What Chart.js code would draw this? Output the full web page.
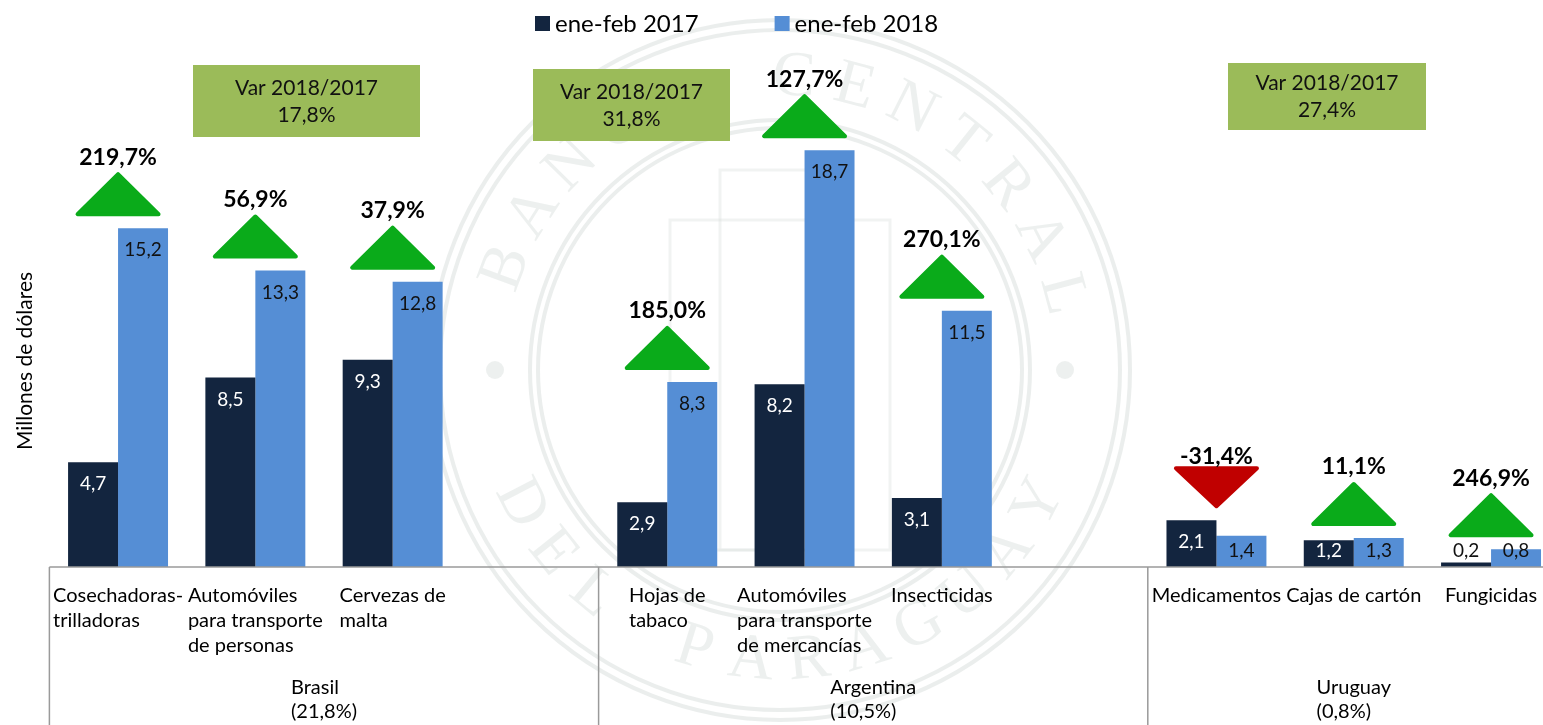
<!DOCTYPE html>
<html>
<head>
<meta charset="utf-8">
<script src="https://cdn.jsdelivr.net/npm/chart.js@4.4.1/dist/chart.umd.min.js"></script>
<style>
    html, body { margin: 0; padding: 0; background: #fff; overflow: hidden; }
    #wrap { position: relative; width: 1600px; height: 725px; }
</style>
</head>
<body>
<div id="wrap"><canvas id="chart"></canvas></div>
<script>
// categories (empty ones keep the gap between countries)
const categories = [
    ['Cosechadoras-', 'trilladoras'],
    ['Automóviles', 'para transporte', 'de personas'],
    ['Cervezas de', 'malta'],
    [],
    ['Hojas de', 'tabaco'],
    ['Automóviles', 'para transporte', 'de mercancías'],
    ['Insecticidas'],
    [],
    ['Medicamentos'],
    ['Cajas de cartón'],
    ['Fungicidas'],
];
const seriesLabels = ['ene-feb 2017', 'ene-feb 2018'];
const values2017 = [4.7, 8.5, 9.3, null, 2.9, 8.2, 3.1, null, 2.1, 1.2, 0.2];
const values2018 = [15.2, 13.3, 12.8, null, 8.3, 18.7, 11.5, null, 1.4, 1.3, 0.8];
const changePct = [219.7, 56.9, 37.9, null, 185.0, 127.7, 270.1, null, -31.4, 11.1, 246.9];

// countries: first and last category index, share, total variation
const groupNames = ['Brasil', 'Argentina', 'Uruguay'];
const groupFirst = [0, 4, 8];
const groupLast = [3, 7, 10];
const groupShares = ['(21,8%)', '(10,5%)', '(0,8%)'];
const groupVar = ['17,8%', '31,8%', '27,4%'];

const COL_2017 = '#13253f';
const COL_2018 = '#558ed5';
const FONT = 'Lato, "Open Sans", sans-serif';

function fmt(v) {
    return v.toFixed(1).replace('.', ',');
}

// draw lines left aligned, block centred on cx
function drawBlock(ctx, lines, cx, y, lh) {
    let w = 0;
    lines.forEach((l) => { w = Math.max(w, ctx.measureText(l).width); });
    const x0 = cx - w / 2;
    ctx.textAlign = 'left';
    ctx.textBaseline = 'middle';
    lines.forEach((l, i) => ctx.fillText(l, x0, y + i * lh));
}

function arcText(ctx, text, cx, cy, r, startAng, endAng, top) {
    const n = text.length;
    for (let i = 0; i < n; i++) {
        const a = startAng + (endAng - startAng) * (i + 0.5) / n;
        ctx.save();
        ctx.translate(cx + r * Math.cos(a), cy + r * Math.sin(a));
        ctx.rotate(top ? a + Math.PI / 2 : a - Math.PI / 2);
        ctx.fillText(text[i], 0, 0);
        ctx.restore();
    }
}

// faint seal in the background
const watermark = {
    id: 'watermark',
    beforeDatasetsDraw(chart) {
        const ctx = chart.ctx;
        const cx = 780, cy = 370;
        ctx.save();
        ctx.strokeStyle = 'rgba(215,222,219,0.5)';
        ctx.fillStyle = 'rgba(215,222,219,0.45)';
        ctx.lineWidth = 4;
        [350, 340, 250, 242].forEach((r) => {
            ctx.beginPath();
            ctx.arc(cx, cy, r, 0, Math.PI * 2);
            ctx.stroke();
        });
        [-1, 1].forEach((s) => {
            ctx.beginPath();
            ctx.arc(cx + s * 285, cy, 9, 0, Math.PI * 2);
            ctx.fill();
        });
        ctx.font = '64px "Liberation Serif", "DejaVu Serif", serif';
        ctx.textAlign = 'center';
        ctx.textBaseline = 'middle';
        arcText(ctx, 'BANCO CENTRAL', cx, cy, 292, Math.PI * 1.08, Math.PI * 1.95, true);
        arcText(ctx, 'DEL PARAGUAY', cx, cy, 292, Math.PI * 0.88, Math.PI * 0.12, false);
        ctx.lineWidth = 3;
        ctx.strokeStyle = 'rgba(215,222,219,0.35)';
        ctx.strokeRect(cx - 110, cy - 150, 220, 330);
        ctx.strokeRect(cx - 60, cy - 200, 120, 380);
        ctx.restore();
    },
};

const decorations = {
    id: 'decorations',
    afterDatasetsDraw(chart) {
        const ctx = chart.ctx;
        const xs = chart.scales.x;
        const ys = chart.scales.y;
        const area = chart.chartArea;
        const half = (xs.getPixelForValue(1) - xs.getPixelForValue(0)) / 2;
        ctx.save();

        // bar value labels
        chart.data.datasets.forEach((ds, di) => {
            const meta = chart.getDatasetMeta(di);
            meta.data.forEach((el, i) => {
                const v = ds.data[i];
                if (v === null) return;
                const y = Math.min(el.y + 22, el.base - 16);
                const inside = y - 8 > el.y;
                ctx.fillStyle = di === 0 && inside ? '#ffffff' : '#111111';
                ctx.font = '19px ' + FONT;
                ctx.textAlign = 'center';
                ctx.textBaseline = 'middle';
                ctx.fillText(fmt(v), el.x, y);
            });
        });

        // change triangles and percentages
        changePct.forEach((p, i) => {
            if (p === null) return;
            const cx = xs.getPixelForValue(i);
            const top = Math.max(values2017[i], values2018[i]);
            const baseY = ys.getPixelForValue(top) - 14;
            const w = 81, h = 40;
            let labelY;
            ctx.beginPath();
            if (p >= 0) {
                ctx.moveTo(cx - w / 2, baseY);
                ctx.lineTo(cx + w / 2, baseY);
                ctx.lineTo(cx, baseY - h);
                ctx.fillStyle = ctx.strokeStyle = '#0aab1a';
                labelY = baseY - h - 17;
            } else {
                ctx.moveTo(cx - w / 2, baseY - h + 2);
                ctx.lineTo(cx + w / 2, baseY - h + 2);
                ctx.lineTo(cx, baseY);
                ctx.fillStyle = ctx.strokeStyle = '#c00000';
                labelY = baseY - h - 10;
            }
            ctx.closePath();
            ctx.lineJoin = 'round';
            ctx.lineWidth = 4;
            ctx.fill();
            ctx.stroke();
            ctx.fillStyle = '#000';
            ctx.font = 'bold 23px ' + FONT;
            ctx.textAlign = 'center';
            ctx.textBaseline = 'middle';
            ctx.fillText(fmt(p) + '%', cx, labelY);
        });

        // axis line and group separators
        ctx.strokeStyle = '#9a9a9a';
        ctx.lineWidth = 1.5;
        ctx.beginPath();
        ctx.moveTo(area.left, area.bottom);
        ctx.lineTo(area.right, area.bottom);
        groupFirst.forEach((f) => {
            const x = xs.getPixelForValue(f) - half;
            ctx.moveTo(x, area.bottom);
            ctx.lineTo(x, chart.height);
        });
        ctx.stroke();

        // category labels
        ctx.fillStyle = '#000';
        ctx.font = '20px ' + FONT;
        categories.forEach((lines, i) => {
            drawBlock(ctx, lines, xs.getPixelForValue(i), area.bottom + 29, 25);
        });

        // country labels
        groupNames.forEach((g, k) => {
            const x1 = xs.getPixelForValue(groupFirst[k]) - half;
            const x2 = xs.getPixelForValue(groupLast[k]) + half;
            drawBlock(ctx, [g, groupShares[k]], (x1 + x2) / 2, area.bottom + 121, 24);
        });

        // variation boxes
        const boxes = [
            { x: 193, y: 65, w: 227, h: 72 },
            { x: 533, y: 69, w: 197, h: 72 },
            { x: 1228, y: 63, w: 198, h: 67 },
        ];
        boxes.forEach((b, k) => {
            ctx.fillStyle = '#9bbb59';
            ctx.fillRect(b.x, b.y, b.w, b.h);
            ctx.fillStyle = '#111';
            ctx.font = '21px ' + FONT;
            ctx.textAlign = 'center';
            ctx.textBaseline = 'middle';
            const mid = b.y + b.h / 2;
            ctx.fillText('Var 2018/2017', b.x + b.w / 2, mid - 13);
            ctx.fillText(groupVar[k], b.x + b.w / 2, mid + 14);
        });

        // legend
        ctx.font = '24px ' + FONT;
        ctx.textAlign = 'left';
        let lx = 535;
        chart.data.datasets.forEach((ds) => {
            ctx.fillStyle = ds.backgroundColor;
            ctx.fillRect(lx, 16, 15, 15);
            ctx.fillStyle = '#000';
            ctx.fillText(ds.label, lx + 20, 24);
            lx += 20 + ctx.measureText(ds.label).width + 76;
        });

        // y title
        ctx.save();
        ctx.translate(25, 361);
        ctx.rotate(-Math.PI / 2);
        ctx.font = '21px ' + FONT;
        ctx.textAlign = 'center';
        ctx.fillText('Millones de dólares', 0, 0);
        ctx.restore();

        ctx.restore();
    },
};

new Chart(document.getElementById('chart'), {
    type: 'bar',
    data: {
        labels: categories.map((c) => c.join(' ')),
        datasets: [
            {
                label: seriesLabels[0],
                data: values2017,
                backgroundColor: COL_2017,
                categoryPercentage: 0.728,
                barPercentage: 1,
            },
            {
                label: seriesLabels[1],
                data: values2018,
                backgroundColor: COL_2018,
                categoryPercentage: 0.728,
                barPercentage: 1,
            },
        ],
    },
    options: {
        responsive: true,
        maintainAspectRatio: false,
        animation: false,
        layout: { padding: { left: 49.4, right: 40.3, top: 32, bottom: 158 } },
        scales: {
            x: { display: false },
            y: { display: false, min: 0, max: 24 },
        },
        plugins: {
            legend: { display: false },
            tooltip: { enabled: false },
        },
    },
    plugins: [watermark, decorations],
});
</script>
</body>
</html>
